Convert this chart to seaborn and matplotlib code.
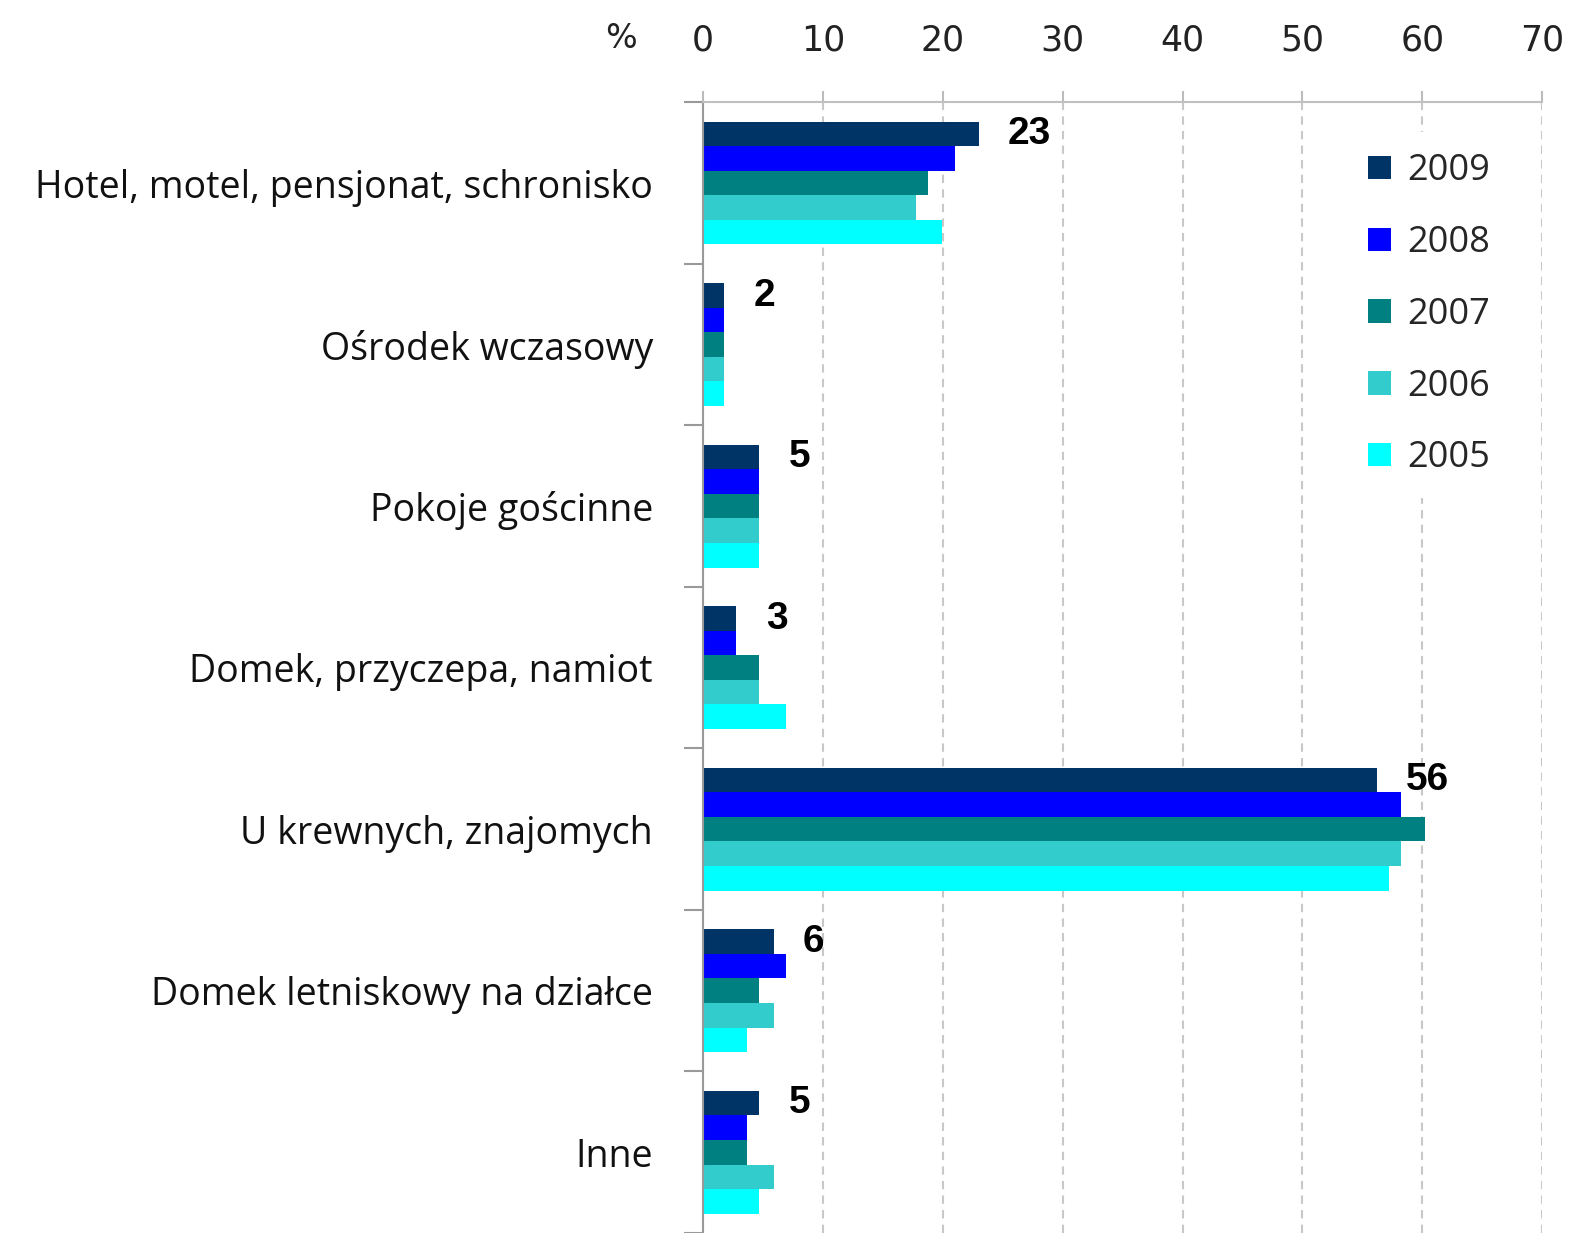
import pandas as pd
import numpy as np
import matplotlib
matplotlib.use("Agg")
import matplotlib.pyplot as plt
from matplotlib.patches import Patch
import seaborn as sns

categories = ["Hotel, motel, pensjonat, schronisko", "Ośrodek wczasowy", "Pokoje gościnne",
              "Domek, przyczepa, namiot", "U krewnych, znajomych",
              "Domek letniskowy na działce", "Inne"]
years = ["2009", "2008", "2007", "2006", "2005"]
v2009 = [23.0, 1.8, 4.7, 2.8, 56.2, 5.9, 4.7]
v2008 = [21.0, 1.8, 4.7, 2.8, 58.2, 6.9, 3.7]
v2007 = [18.8, 1.8, 4.7, 4.7, 60.2, 4.7, 3.7]
v2006 = [17.8, 1.8, 4.7, 4.7, 58.2, 5.9, 5.9]
v2005 = [19.9, 1.8, 4.7, 6.9, 57.2, 3.7, 4.7]
labels_2009 = ["23", "2", "5", "3", "56", "6", "5"]
colors = ["#003366", "#0000FF", "#008080", "#33CCCC", "#00FFFF"]

rows = []
for year, vals in zip(years, [v2009, v2008, v2007, v2006, v2005]):
    for cat, v in zip(categories, vals):
        rows.append({"cat": cat, "year": year, "value": v})
df = pd.DataFrame(rows)

sns.set_style("white")
plt.rcParams['font.family'] = ['Open Sans', 'DejaVu Sans']

fig = plt.figure(figsize=(15.69, 12.33), dpi=100)
ax = fig.add_axes([0.448, 0.0, 0.535, 0.917])

sns.barplot(data=df, y="cat", x="value", hue="year", hue_order=years, order=categories,
            palette=colors, width=0.76, gap=0, orient="h", ax=ax, legend=False,
            saturation=1, edgecolor="none", linewidth=0)

ax.set_xlim(0, 70)
ax.set_ylim(len(categories) - 0.5, -0.5)
ax.set_xticks(np.arange(0, 71, 10))
ax.xaxis.tick_top()
ax.tick_params(axis="x", top=True, length=8, color="#BBBBBB", width=1.5, pad=24,
               labelsize=25, labelcolor="#222222")
for lab in ax.get_xticklabels():
    lab.set_fontfamily("DejaVu Sans")
ax.set_xlabel("")
ax.set_ylabel("")
ax.grid(axis="x", color="#C8C8C8", linestyle=(0, (4, 3)), linewidth=1.5)
ax.set_axisbelow(True)

# category boundaries get the tick marks, names sit between them
ax.set_yticks(np.arange(-0.5, len(categories), 1), minor=False)
ax.set_yticklabels([])
ax.set_yticks(np.arange(len(categories)), minor=True)
ax.set_yticklabels(categories, minor=True)
ax.tick_params(axis="y", which="major", left=True, length=14, color="#999999", width=1.5)
ax.tick_params(axis="y", which="minor", left=False, length=0, pad=36, labelsize=27,
               labelcolor="#111111")

for s in ["right", "bottom"]:
    ax.spines[s].set_visible(False)
ax.spines["left"].set_color("#999999")
ax.spines["left"].set_linewidth(1.5)
ax.spines["top"].set_color("#C0C0C0")
ax.spines["top"].set_linewidth(1.5)

# labels next to the 2009 bars
ax.bar_label(ax.containers[0], labels=labels_2009, padding=21, fontsize=28,
             fontweight="bold", family="Liberation Sans", color="#000000")

# percent sign left of the tick labels
fig.text(0.396, 0.969, "%", fontsize=24, family="DejaVu Sans", color="#222222",
         ha="center", va="center")

handles = [Patch(facecolor=c, edgecolor="none", label=y) for c, y in zip(colors, years)]
leg = ax.legend(handles=handles, loc="upper right", bbox_to_anchor=(0.985, 0.99),
                frameon=True, fontsize=26, handlelength=0.62, handleheight=0.62,
                handletextpad=0.45, labelspacing=0.99, borderpad=0.6)
leg.get_frame().set_facecolor("white")
leg.get_frame().set_edgecolor("none")
leg.get_frame().set_alpha(1)

fig.savefig("out.png", dpi=100)
